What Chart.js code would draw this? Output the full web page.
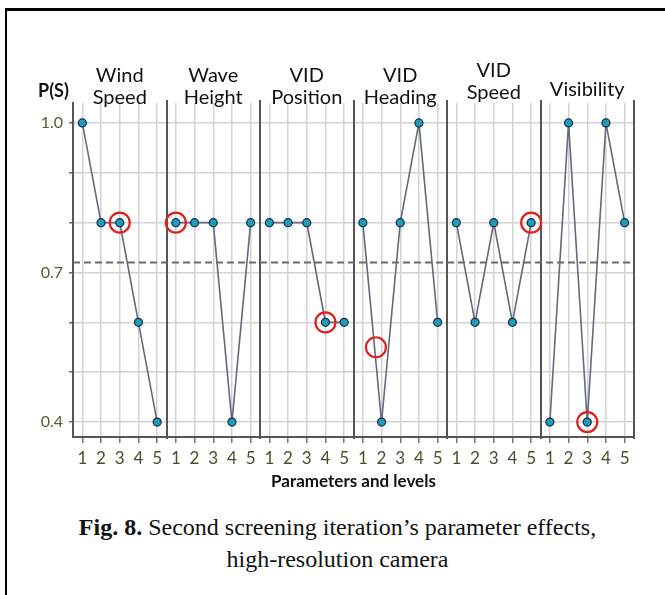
<!DOCTYPE html>
<html>
<head>
<meta charset="utf-8">
<script src="https://cdn.jsdelivr.net/npm/chart.js@4.4.1/dist/chart.umd.min.js"></script>
<style>
    body { margin: 0; background: #fff; }
    #wrap { position: relative; width: 665px; height: 595px; overflow: hidden; background: #fff; }
    #frame { position: absolute; left: 5px; top: 8px; width: 720px; height: 640px;
        border-top: 3px solid #000; border-left: 2px solid #000; pointer-events: none; }
    #chart { position: absolute; left: 0; top: 0; }
    #caption { position: absolute; left: 0; top: 511px; width: 675px; text-align: center;
        font-family: "Liberation Serif", "Times New Roman", serif; font-size: 24px; line-height: 32px; color: #111; }
</style>
</head>
<body>
<div id="wrap">
    <canvas id="chart" width="665" height="500"></canvas>
    <div id="caption"><b>Fig. 8.</b> Second screening iteration’s parameter effects,<br>high-resolution camera</div>
    <div id="frame"></div>
</div>
<script>
// Parameters and their levels
const groupLabels = [['Wind', 'Speed'], ['Wave', 'Height'], ['VID', 'Position'], ['VID', 'Heading'], ['VID', 'Speed'], ['Visibility']];
const levels = ['1', '2', '3', '4', '5'];

// P(S) per level, one array per parameter
const windSpeed = [1.0, 0.8, 0.8, 0.6, 0.4];
const waveHeight = [0.8, 0.8, 0.8, 0.4, 0.8];
const vidPosition = [0.8, 0.8, 0.8, 0.6, 0.6];
const vidHeading = [0.8, 0.4, 0.8, 1.0, 0.6];
const vidSpeed = [0.8, 0.6, 0.8, 0.6, 0.8];
const visibility = [0.4, 1.0, 0.4, 1.0, 0.8];
const seriesValues = [windSpeed, waveHeight, vidPosition, vidHeading, vidSpeed, visibility];

// red rings (position along the level axis, value)
const ringPos = [3, 6, 14, 16.7, 25, 28];
const ringVal = [0.8, 0.8, 0.6, 0.55, 0.8, 0.4];

const threshold = 0.72;
const yTicks = [0.4, 0.5, 0.6, 0.7, 0.8, 0.9, 1.0];
const yLabelled = [0.4, 0.7, 1.0];

const nLevels = levels.length;
const nAll = groupLabels.length * nLevels;

const datasets = seriesValues.map((vals, g) => ({
    type: 'line',
    data: vals.map((v, i) => ({ x: g * nLevels + i + 1, y: v })),
    borderColor: '#646a7e',
    borderWidth: 1.6,
    pointRadius: 4,
    pointBackgroundColor: '#1f9db4',
    pointBorderColor: '#17264f',
    pointBorderWidth: 1.2,
    tension: 0,
    order: 2
}));

datasets.push({
    type: 'line',
    data: [{ x: 0.5, y: threshold }, { x: nAll + 0.5, y: threshold }],
    borderColor: '#6a6a6a',
    borderWidth: 2,
    borderDash: [7, 4],
    pointRadius: 0,
    order: 3
});

datasets.push({
    type: 'scatter',
    data: ringPos.map((p, i) => ({ x: p, y: ringVal[i] })),
    pointRadius: 10,
    pointBorderColor: '#e0201c',
    pointBorderWidth: 2.2,
    pointBackgroundColor: 'rgba(0,0,0,0)',
    order: 1
});

// Group titles, dividers and the P(S) label
const decorations = {
    id: 'decorations',
    beforeDatasetsDraw(chart) {
        const { ctx, chartArea } = chart;
        const x = chart.scales.x;
        ctx.save();
        ctx.strokeStyle = '#555';
        ctx.lineWidth = 2;
        for (let g = 1; g <= groupLabels.length; g++) {
            const px = Math.round(x.getPixelForValue(g * nLevels + 0.5));
            ctx.beginPath();
            ctx.moveTo(px, chartArea.top - 3);
            ctx.lineTo(px, chartArea.bottom + 2);
            ctx.stroke();
        }
        ctx.restore();
    },
    afterDraw(chart) {
        const { ctx, chartArea } = chart;
        const x = chart.scales.x;
        ctx.save();
        ctx.fillStyle = '#111';
        ctx.textAlign = 'center';
        ctx.textBaseline = 'alphabetic';
        ctx.font = '20px Lato';
        groupLabels.forEach((lines, g) => {
            const cx = x.getPixelForValue(g * nLevels + (nLevels + 1) / 2);
            let base = chartArea.top - 21;
            if (lines.length === 1) base = chartArea.top - 7;
            if (g === 4) base -= 5;
            lines.forEach((t, k) => ctx.fillText(t, cx, base + k * 22));
        });
        ctx.font = 'bold 18px Lato';
        ctx.textAlign = 'left';
        ctx.fillText('P(S)', 38, chartArea.top - 6);
        ctx.restore();
    }
};

new Chart(document.getElementById('chart'), {
    data: { datasets: datasets },
    plugins: [decorations],
    options: {
        responsive: false,
        animation: false,
        layout: { padding: { top: 103, right: 31, left: 0, bottom: 3 } },
        plugins: { legend: { display: false }, tooltip: { enabled: false } },
        scales: {
            x: {
                type: 'linear',
                min: 0.5,
                max: nAll + 0.5,
                afterFit: (scale) => { scale.height = 60; },
                afterBuildTicks: (scale) => {
                    scale.ticks = Array.from({ length: nAll }, (_, i) => ({ value: i + 1 }));
                },
                ticks: {
                    autoSkip: false,
                    maxRotation: 0,
                    padding: 5,
                    color: '#46512a',
                    font: { family: 'Lato', size: 17 },
                    callback: (v) => levels[(v - 1) % nLevels]
                },
                grid: { color: '#d2d2d2', lineWidth: 1.5, tickLength: 6, tickColor: '#777' },
                border: { color: '#555', width: 2 },
                title: {
                    display: true,
                    text: 'Parameters and levels',
                    color: '#111',
                    font: { family: 'Lato', size: 17, weight: 'bold' },
                    padding: { top: 0, bottom: 5 }
                }
            },
            y: {
                type: 'linear',
                min: 0.37,
                max: 1.04,
                afterFit: (scale) => { scale.width = 73; },
                afterBuildTicks: (scale) => {
                    scale.ticks = yTicks.map(v => ({ value: v }));
                },
                ticks: {
                    padding: 6,
                    color: '#555d2e',
                    font: { family: 'Lato', size: 16 },
                    callback: (v) => yLabelled.some(t => Math.abs(t - v) < 1e-6) ? v.toFixed(1) : ''
                },
                grid: { color: '#d2d2d2', lineWidth: 1.5, tickLength: 4, tickColor: '#666' },
                border: { color: '#555', width: 2 }
            }
        }
    }
});
</script>
</body>
</html>
